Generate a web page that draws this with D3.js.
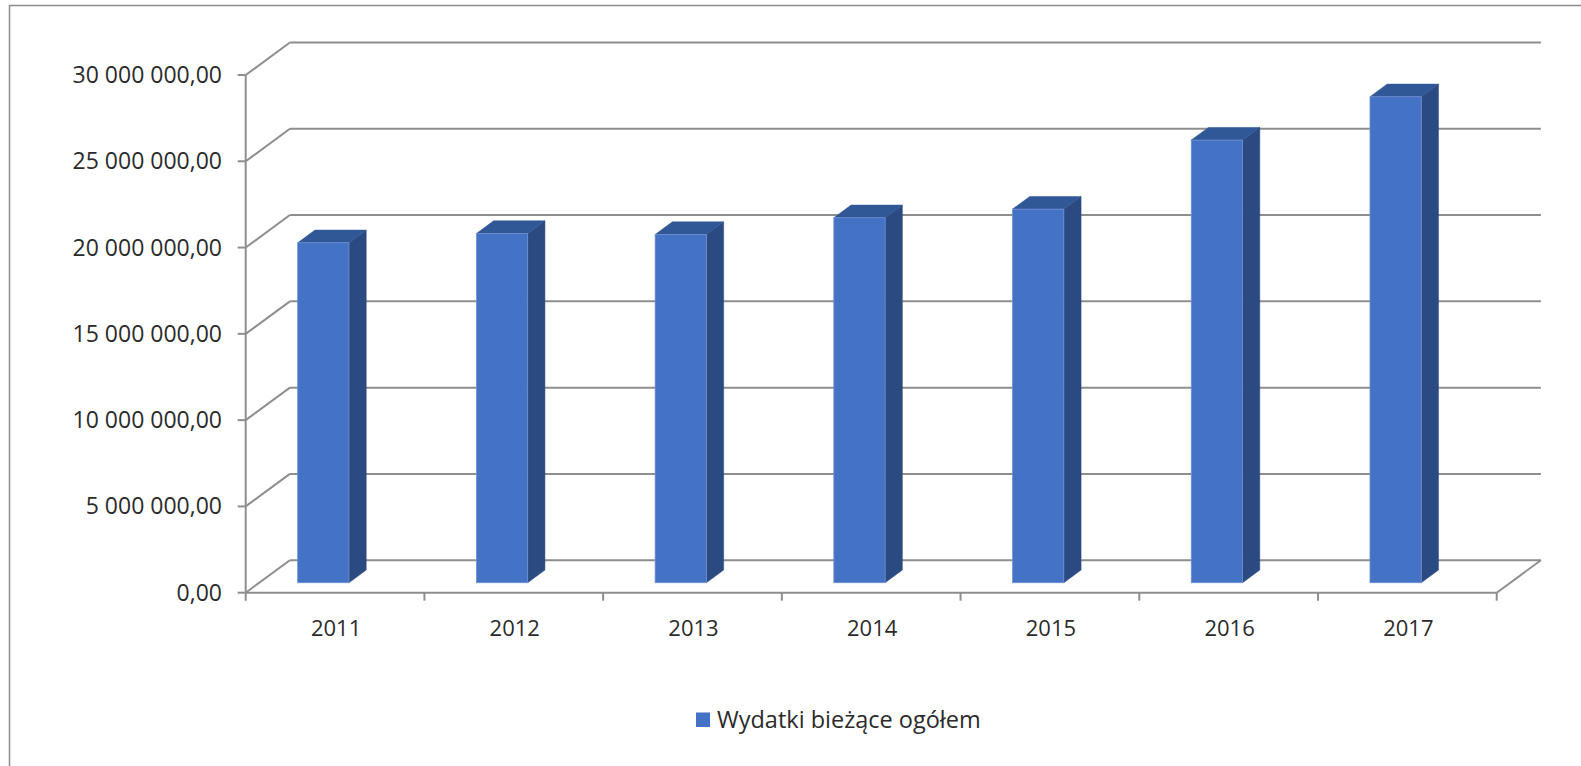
<!DOCTYPE html>
<html>
<head>
<meta charset="utf-8">
<script src="https://cdn.jsdelivr.net/npm/d3@7"></script>
<style>
  html, body { margin: 0; padding: 0; background: #fff; }
  svg { display: block; }
  text { font-family: "Open Sans", "Liberation Sans", sans-serif; fill: #2b2b2b; }
</style>
</head>
<body>
<svg id="chart" width="1581" height="766"></svg>
<script>
const years = ["2011", "2012", "2013", "2014", "2015", "2016", "2017"];
const values = [19700000, 20240000, 20180000, 21150000, 21650000, 25650000, 28160000];
const yTicks = [0, 5000000, 10000000, 15000000, 20000000, 25000000, 30000000];
const seriesName = "Wydatki bieżące ogółem";

const svg = d3.select("#chart");

// chart frame (only top/left edges visible in window)
svg.append("rect")
  .attr("x", 9.5).attr("y", 5.5)
  .attr("width", 1700).attr("height", 900)
  .attr("fill", "#fff").attr("stroke", "#8c8c8c").attr("stroke-width", 1.5);

// front-plane scales
const x = d3.scaleBand().domain(years).range([245.7, 1496.7]).padding(0);
const y = d3.scaleLinear().domain([0, 30000000]).range([592.7, 75]);

// floor depth vector
const DX = 44.2, DY = -32.5;
const depthAt = f => [DX * f, DY * f];

const fmt = v => {
  const s = d3.format(",.2f")(v);
  return s.replace(/,/g, "\u00a0").replace(".", ",");
};

const grid = svg.append("g");
const gridColor = "#8e8e8e";

// back wall gridlines + side wall diagonals
yTicks.forEach(t => {
  const yf = y(t);
  const [bx, by] = depthAt(1);
  grid.append("line")
    .attr("x1", x.range()[0] + bx).attr("x2", x.range()[1] + bx)
    .attr("y1", yf + by).attr("y2", yf + by)
    .attr("stroke", gridColor).attr("stroke-width", 2);
  grid.append("line")
    .attr("x1", x.range()[0]).attr("y1", yf)
    .attr("x2", x.range()[0] + bx).attr("y2", yf + by)
    .attr("stroke", gridColor).attr("stroke-width", 2);
});

// vertical axis line and ticks
const x0 = x.range()[0];
grid.append("line")
  .attr("x1", x0).attr("x2", x0)
  .attr("y1", y(30000000)).attr("y2", y(0) + 8)
  .attr("stroke", gridColor).attr("stroke-width", 2);
yTicks.forEach(t => {
  grid.append("line")
    .attr("x1", x0 - 8).attr("x2", x0)
    .attr("y1", y(t)).attr("y2", y(t))
    .attr("stroke", gridColor).attr("stroke-width", 2);
});

// floor front edge and right edge
const x1 = x.range()[1];
grid.append("line")
  .attr("x1", x0).attr("x2", x1)
  .attr("y1", y(0)).attr("y2", y(0))
  .attr("stroke", gridColor).attr("stroke-width", 2);
grid.append("line")
  .attr("x1", x1).attr("y1", y(0))
  .attr("x2", x1 + DX).attr("y2", y(0) + DY)
  .attr("stroke", gridColor).attr("stroke-width", 2);

// category ticks
years.forEach((yr, i) => {
  grid.append("line")
    .attr("x1", x(yr) + x.bandwidth()).attr("x2", x(yr) + x.bandwidth())
    .attr("y1", y(0)).attr("y2", y(0) + 8)
    .attr("stroke", gridColor).attr("stroke-width", 2);
});

// y labels
svg.append("g").selectAll("text").data(yTicks).join("text")
  .attr("x", 222).attr("y", d => y(d))
  .attr("dy", "0.35em")
  .attr("text-anchor", "end")
  .attr("font-size", 23)
  .text(d => fmt(d));

// x labels
svg.append("g").selectAll("text").data(years).join("text")
  .attr("x", d => x(d) + x.bandwidth() / 2 + 1)
  .attr("y", 636)
  .attr("text-anchor", "middle")
  .attr("font-size", 22)
  .text(d => d);

// bars
const fFront = 0.307, fDepth = 0.39;
const barOff = 0.215, barW = 0.287;
const [fx, fy] = depthAt(fFront);
const [ddx, ddy] = depthAt(fDepth);
const bars = svg.append("g");
years.forEach((yr, i) => {
  const left = x(yr) + x.bandwidth() * barOff + fx;
  const right = left + x.bandwidth() * barW;
  const bottom = y(0) + fy;
  const top = y(values[i]) + fy;
  const poly = pts => pts.map(p => p.join(",")).join(" ");
  // side face
  bars.append("polygon")
    .attr("points", poly([[right, top], [right + ddx, top + ddy], [right + ddx, bottom + ddy], [right, bottom]]))
    .attr("fill", "#2B4A82").attr("stroke", "#2B4A82").attr("stroke-width", 0.5);
  // top face
  bars.append("polygon")
    .attr("points", poly([[left, top], [left + ddx, top + ddy], [right + ddx, top + ddy], [right, top]]))
    .attr("fill", "#305796").attr("stroke", "#305796").attr("stroke-width", 0.5);
  // front face
  bars.append("rect")
    .attr("x", left).attr("y", top)
    .attr("width", right - left).attr("height", bottom - top)
    .attr("fill", "#4472C4").attr("stroke", "#6f90d2").attr("stroke-width", 0.8);
});

// legend
const lg = svg.append("g");
lg.append("rect")
  .attr("x", 696).attr("y", 712.5).attr("width", 14).attr("height", 14.5)
  .attr("fill", "#4472C4");
lg.append("text")
  .attr("x", 717).attr("y", 727.5)
  .attr("font-size", 23.5)
  .text(seriesName);
</script>
</body>
</html>
